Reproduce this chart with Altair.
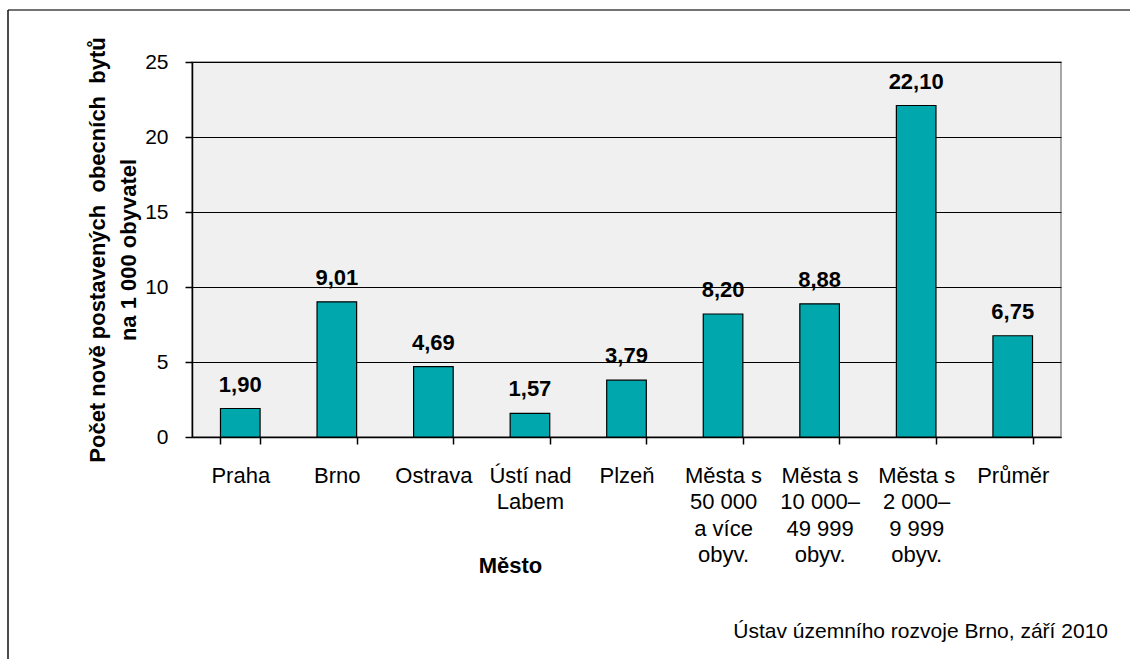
import altair as alt
import pandas as pd

# Categories (multi-line axis labels) and values
mesta = [
    ["Praha"],
    ["Brno"],
    ["Ostrava"],
    ["Ústí nad", "Labem"],
    ["Plzeň"],
    ["Města s", "50\u00a0000\u00a0\u00a0\u00a0", "a více\u00a0\u00a0\u00a0", "obyv."],
    ["Města s", "10\u00a0000\u2013", "49\u00a0999", "obyv."],
    ["Města s", "2\u00a0000\u2013", "9\u00a0999", "obyv."],
    ["Průměr"],
]
hodnoty = [1.90, 9.01, 4.69, 1.57, 3.79, 8.20, 8.88, 22.10, 6.75]
y_ticks = [0, 5, 10, 15, 20, 25]
zdroj = "Ústav územního rozvoje Brno, září 2010"

keys = [f"k{i}" for i in range(len(mesta))]

df = pd.DataFrame({
    "key": keys,
    "hodnota": hodnoty,
    "popis": [f"{v:.2f}".replace(".", ",") for v in hodnoty],
})
one = pd.DataFrame({"a": [0]})

# label expression: map key -> list of lines
label_expr = "{" + ",".join(
    f"'{k}': [" + ",".join("'" + s + "'" for s in lines) + "]" for k, lines in zip(keys, mesta)
) + "}[datum.value]"

FONT = "Liberation Sans"
PLOT_W, PLOT_H = 869, 375
LEFT, TOP = 192, 62
SP2 = "\u00a0\u00a0"

x = alt.X(
    "key:N",
    sort=keys,
    scale=alt.Scale(paddingInner=0.59, paddingOuter=0.295),
    axis=alt.Axis(
        title="Město",
        titleFont=FONT, titleFontSize=22, titleFontWeight="bold", titleColor="black",
        titleX=318, titleY=128, titleAnchor="middle", titleBaseline="middle", titleAlign="center",
        labelExpr=label_expr,
        labelFont=FONT, labelFontSize=22, labelColor="black",
        labelLineHeight=26.5, labelPadding=31, labelAngle=0,
        labelBaseline="middle",
        domainColor="black", domainWidth=1.5,
        tickColor="black", tickSize=7, tickWidth=1.5, tickBand="extent",
        grid=False,
    ),
)

y = alt.Y(
    "hodnota:Q",
    scale=alt.Scale(domain=[0, 25], nice=False),
    axis=alt.Axis(
        values=y_ticks,
        title=["Počet nově postavených" + SP2 + "obecních" + SP2 + "bytů", "na 1 000 obyvatel"],
        titleFont=FONT, titleFontSize=22, titleFontWeight="bold", titleColor="black",
        titleLineHeight=31, titleX=-95, titleY=PLOT_H / 2, titleAngle=270,
        titleAlign="center", titleBaseline="middle",
        labelFont=FONT, labelFontSize=21, labelColor="black", labelPadding=17,
        domainColor="black", domainWidth=1.5,
        tickColor="black", tickSize=7, tickWidth=1.5,
        gridColor="black", gridWidth=1, gridOpacity=1,
    ),
)

bars = alt.Chart(df).mark_bar(color="#00A8AE", stroke="black", strokeWidth=1.2).encode(x=x, y=y)

labels = alt.Chart(df).mark_text(
    font=FONT, fontSize=22, fontWeight="bold", color="black", baseline="alphabetic", dy=-17
).encode(x=alt.X("key:N", sort=keys), y="hodnota:Q", text="popis:N")

# outer frame: top and left edges
frame_top = alt.Chart(one).mark_rule(color="#444444", strokeWidth=1.5, clip=False).encode(
    x=alt.value(8 - LEFT), x2=alt.value(1130 - LEFT), y=alt.value(10 - TOP)
)
frame_left = alt.Chart(one).mark_rule(color="#111111", strokeWidth=1.5, clip=False).encode(
    x=alt.value(8 - LEFT), y=alt.value(10 - TOP), y2=alt.value(659 - TOP)
)

source = alt.Chart(one).mark_text(
    font=FONT, fontSize=21, color="black", align="right", baseline="middle", clip=False
).encode(
    x=alt.value(1108 - LEFT), y=alt.value(632 - TOP), text=alt.value(zdroj)
)

chart = alt.layer(frame_top, frame_left, bars, labels, source).properties(
    width=PLOT_W, height=PLOT_H,
    padding={"left": LEFT, "top": TOP, "right": 1130 - LEFT - PLOT_W, "bottom": 659 - TOP - PLOT_H},
    autosize=alt.AutoSizeParams(type="none"),
    background="white",
).configure_view(
    fill="#F0F0F0", stroke="#8C8C8C", strokeWidth=1.5,
)

chart.save("out.html", embed_options={"renderer": "svg", "actions": False})
